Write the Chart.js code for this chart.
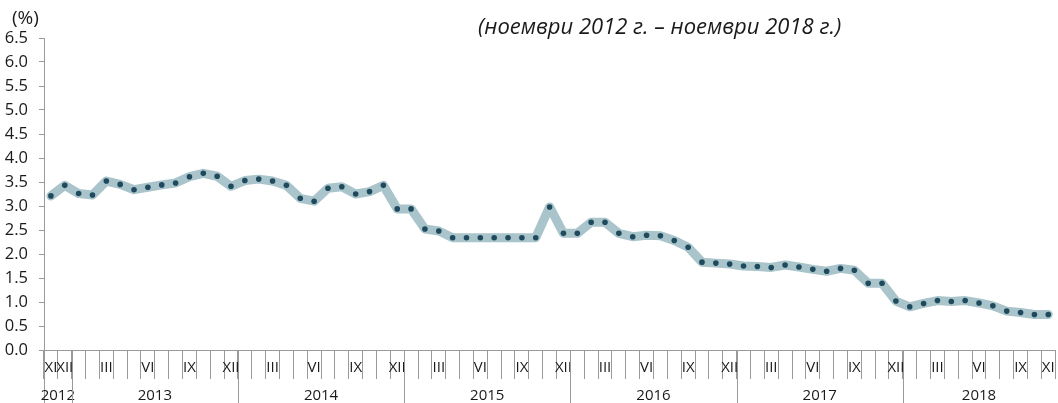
<!DOCTYPE html>
<html>
<head>
<meta charset="utf-8">
<script src="https://cdn.jsdelivr.net/npm/chart.js@4.4.0/dist/chart.umd.min.js"></script>
<style>
  html, body { margin: 0; padding: 0; background: #fff; }
  #wrap { position: relative; width: 1058px; height: 403px; font-family: 'Open Sans', sans-serif; color: #1a1a1a; }
  #unit { position: absolute; left: 12px; top: 5px; font-size: 19px; line-height: 24px; }
  #period { position: absolute; left: 478px; top: 10px; font-size: 22px; line-height: 30px; font-style: italic; white-space: nowrap; }
  canvas { position: absolute; left: 0; top: 0; }
</style>
</head>
<body>
<div id="wrap">
  <canvas id="chart" width="1058" height="403"></canvas>
  <div id="unit">(%)</div>
  <div id="period">(ноември 2012 г. – ноември 2018 г.)</div>
</div>
<script>
// monthly values, Nov 2012 - Nov 2018
const years = ['2012', '2013', '2014', '2015', '2016', '2017', '2018'];
const values2012 = [3.21, 3.43];
const values2013 = [3.26, 3.23, 3.52, 3.45, 3.34, 3.39, 3.44, 3.48, 3.61, 3.68, 3.62, 3.41];
const values2014 = [3.53, 3.56, 3.52, 3.43, 3.16, 3.10, 3.37, 3.40, 3.25, 3.30, 3.43, 2.94];
const values2015 = [2.94, 2.52, 2.48, 2.34, 2.34, 2.34, 2.34, 2.34, 2.34, 2.34, 2.98, 2.43];
const values2016 = [2.43, 2.66, 2.66, 2.43, 2.36, 2.39, 2.38, 2.28, 2.14, 1.83, 1.81, 1.79];
const values2017 = [1.75, 1.74, 1.72, 1.77, 1.73, 1.68, 1.64, 1.70, 1.66, 1.39, 1.39, 1.02];
const values2018 = [0.90, 0.97, 1.03, 1.01, 1.03, 0.98, 0.92, 0.81, 0.78, 0.74, 0.74];
const yearValues = [values2012, values2013, values2014, values2015, values2016, values2017, values2018];
const firstMonth = 11;  // data starts in November 2012
const romans = ['I', 'II', 'III', 'IV', 'V', 'VI', 'VII', 'VIII', 'IX', 'X', 'XI', 'XII'];
const shownMonths = ['III', 'VI', 'IX', 'XII'];
const yTicks = [0, 0.5, 1, 1.5, 2, 2.5, 3, 3.5, 4, 4.5, 5, 5.5, 6, 6.5];

// build categories "XI 2012", ... from the yearly arrays
const categories = [];
const monthOf = [];
const yearOf = [];
yearValues.forEach((arr, yi) => {
  arr.forEach((v, k) => {
    const m = (yi === 0 ? firstMonth - 1 : 0) + k;
    categories.push(romans[m] + ' ' + years[yi]);
    monthOf.push(romans[m]);
    yearOf.push(yi);
  });
});
const values = [].concat(...yearValues);

const AXIS = '#9a9a9a';
const TEXT = '#1a1a1a';

// year separators and year names under the month ticks
const yearAxis = {
  id: 'yearAxis',
  afterDraw(chart) {
    const x = chart.scales.x;
    const ctx = chart.ctx;
    const top = chart.chartArea.bottom;
    const bottom = chart.height;
    ctx.save();
    ctx.strokeStyle = AXIS;
    ctx.lineWidth = 1;
    ctx.fillStyle = TEXT;
    ctx.font = '15px "Open Sans"';
    ctx.textAlign = 'center';
    ctx.textBaseline = 'middle';
    const step = x.getPixelForValue(1) - x.getPixelForValue(0);
    years.forEach((y, yi) => {
      const idx = yearOf.map((v, i) => v === yi ? i : -1).filter(i => i >= 0);
      const start = x.getPixelForValue(idx[0]) - step / 2;
      const end = x.getPixelForValue(idx[idx.length - 1]) + step / 2;
      ctx.beginPath();
      ctx.moveTo(Math.round(start) + 0.5, top);
      ctx.lineTo(Math.round(start) + 0.5, bottom);
      ctx.stroke();
      ctx.fillText(y, (start + end) / 2, 396);
    });
    ctx.restore();
  }
};

new Chart(document.getElementById('chart'), {
  type: 'line',
  data: {
    labels: categories,
    datasets: [{
      data: values,
      borderColor: '#a9c4ca',
      borderWidth: 9,
      borderJoinStyle: 'round',
      borderCapStyle: 'round',
      tension: 0,
      pointRadius: 2.8,
      pointBackgroundColor: '#1f4a5d',
      pointBorderWidth: 0,
      pointHoverRadius: 2.8,
      clip: false
    }]
  },
  options: {
    responsive: false,
    animation: false,
    layout: { padding: { top: 38, right: 0, left: 0, bottom: 0 } },
    plugins: { legend: { display: false }, tooltip: { enabled: false } },
    scales: {
      x: {
        type: 'category',
        offset: true,
        afterFit: s => { s.height = 53; },
        grid: { offset: true, drawOnChartArea: false, tickLength: 29, color: AXIS, tickColor: AXIS },
        border: { color: AXIS, width: 1 },
        ticks: {
          autoSkip: false,
          maxRotation: 0,
          padding: -20,
          color: TEXT,
          font: { family: 'Open Sans', size: 15 },
          callback: (v, i) => {
            const m = monthOf[i];
            if (i === 0 || i === categories.length - 1 || shownMonths.includes(m)) return m;
            return '';
          }
        }
      },
      y: {
        min: 0,
        max: 6.5,
        afterFit: s => { s.width = 44; },
        afterBuildTicks: s => { s.ticks = yTicks.map(v => ({ value: v })); },
        grid: { drawOnChartArea: false, tickLength: 5, color: AXIS, tickColor: AXIS },
        border: { color: AXIS, width: 1 },
        ticks: {
          padding: 11,
          color: TEXT,
          font: { family: 'Open Sans', size: 16.5 },
          callback: v => v.toFixed(1)
        }
      }
    }
  },
  plugins: [yearAxis]
});
</script>
</body>
</html>
